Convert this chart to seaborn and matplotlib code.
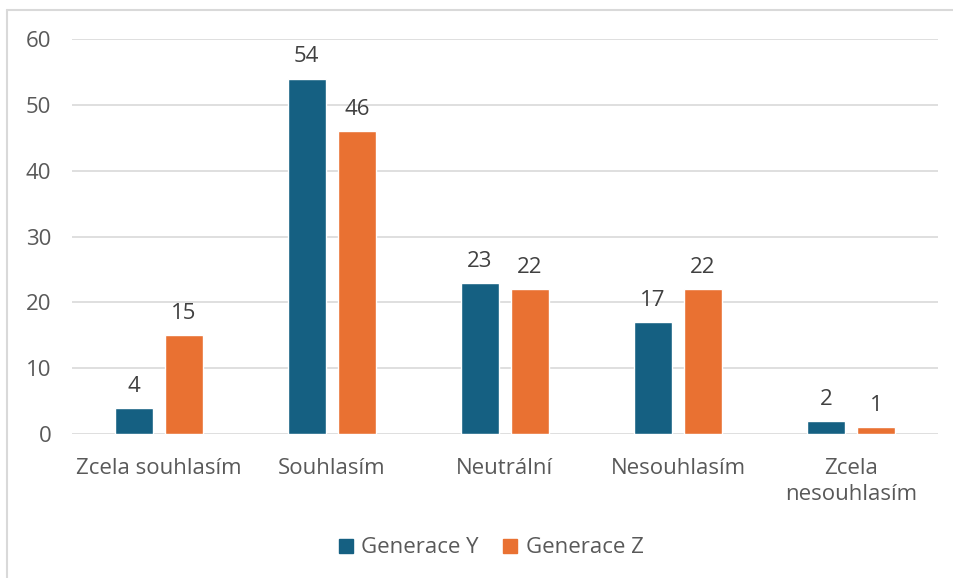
import matplotlib
matplotlib.use("Agg")
import matplotlib.pyplot as plt
import seaborn as sns
import pandas as pd
from matplotlib.lines import Line2D
from matplotlib.patches import Patch

categories = ["Zcela souhlasím", "Souhlasím", "Neutrální", "Nesouhlasím", "Zcela\nnesouhlasím"]
series_names = ["Generace Y", "Generace Z"]
gen_y = [4, 54, 23, 17, 2]
gen_z = [15, 46, 22, 22, 1]
yticks = [0, 10, 20, 30, 40, 50, 60]

colors = ["#156082", "#E97132"]
text_color = "#595959"
FS = 16

sns.set_theme(style="white")
plt.rcParams['font.family'] = ['Open Sans', 'DejaVu Sans']

df = pd.DataFrame({
    "cat": categories * 2,
    "val": gen_y + gen_z,
    "series": [series_names[0]] * 5 + [series_names[1]] * 5,
})

fig = plt.figure(figsize=(9.54, 5.78), dpi=100)
ax = fig.add_axes([0.0755, 0.249, 0.9075, 0.6835])

sns.barplot(data=df, x="cat", y="val", hue="series", palette=colors,
            width=0.578, gap=0.24, ax=ax, legend=False, saturation=1)

ax.set_ylim(0, 60)
ax.set_xlim(-0.5, 4.5)
ax.set_yticks(yticks)
ax.set_yticklabels([str(t) for t in yticks])
ax.yaxis.grid(True, color="#d9d9d9", linewidth=1.2)
ax.set_axisbelow(True)
for s in ax.spines.values():
    s.set_visible(False)
ax.set_xlabel("")
ax.set_ylabel("")
ax.tick_params(axis="y", length=0, pad=15, labelsize=FS, labelcolor=text_color)
ax.tick_params(axis="x", length=0, pad=17, labelsize=FS, labelcolor=text_color)
for lbl in ax.get_xticklabels():
    lbl.set_linespacing(1.35)

for cont in ax.containers:
    ax.bar_label(cont, padding=8, fontsize=FS, color="#404040")

handles = [Patch(facecolor=c, edgecolor=c) for c in colors]
fig.legend(handles, series_names, loc="center", bbox_to_anchor=(0.515, 0.052),
           ncol=2, frameon=False, fontsize=FS, labelcolor=text_color,
           handlelength=0.6, handleheight=0.6, handletextpad=0.4, columnspacing=1.1)

# chart frame (top and left edges visible)
fig.add_artist(Line2D([0.0075, 1.0], [1 - 10/578, 1 - 10/578], transform=fig.transFigure,
                      color="#d9d9d9", linewidth=1.5))
fig.add_artist(Line2D([0.0075, 0.0075], [0, 1 - 10/578], transform=fig.transFigure,
                      color="#d9d9d9", linewidth=1.5))

fig.savefig("out.png", dpi=100, facecolor="white")
